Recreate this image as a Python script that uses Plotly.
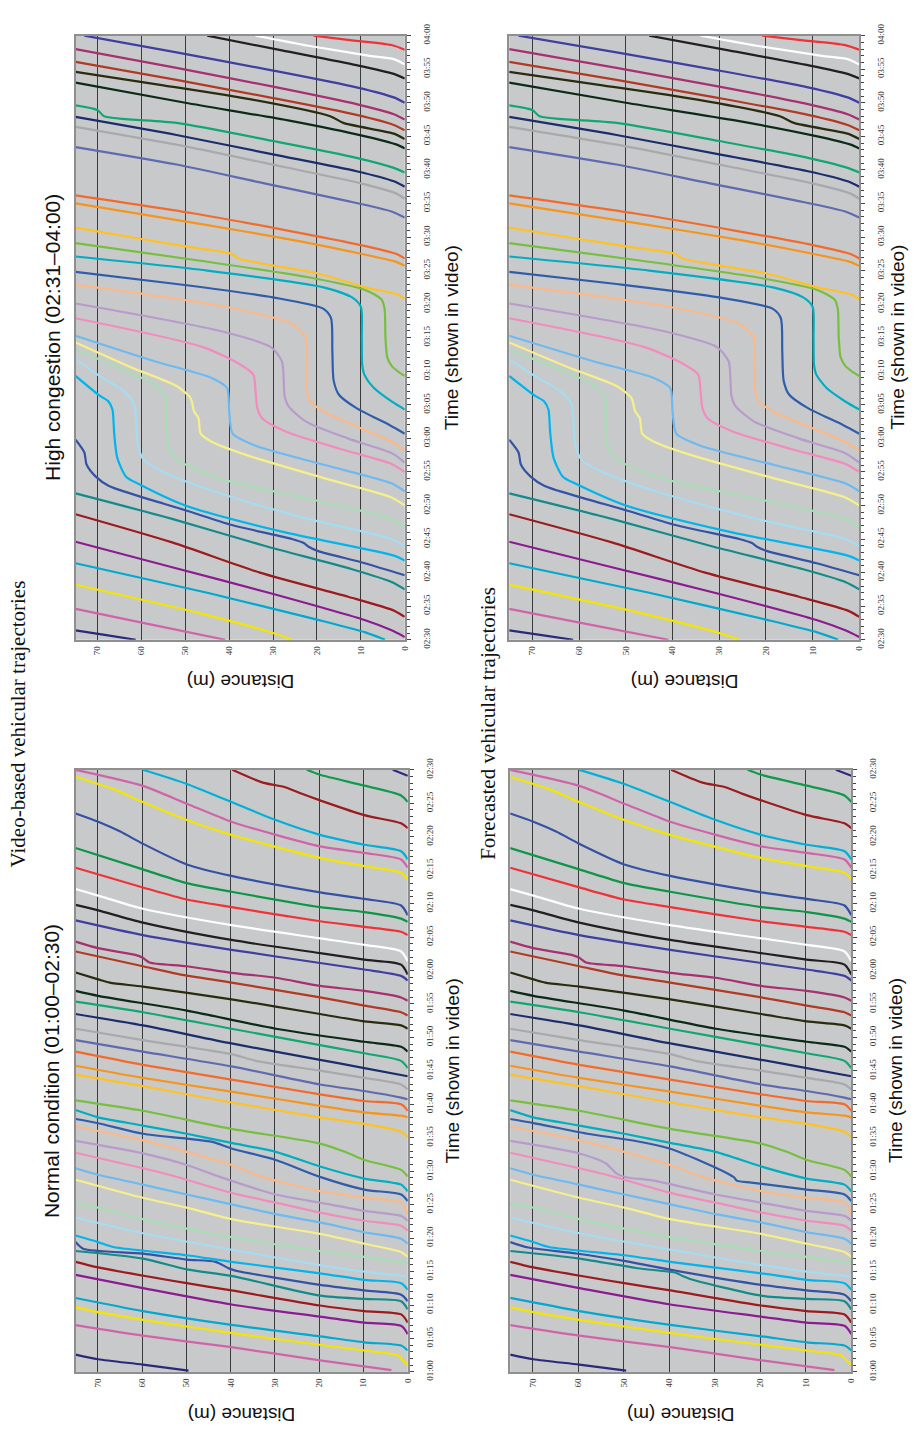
import plotly.graph_objects as go

W, H = 914, 1445

vehicle_colors = [
    "#2B2A7A", "#D064A8", "#F2E600", "#00A9CE", "#8B1C8F", "#9B1B1E", "#148A8A", "#3553A4",
    "#00B4EC", "#A6DCF2", "#A8DDB5", "#F5F08A", "#6EB9F0", "#F28CBD", "#B79BCB", "#F9B98A",
    "#2F5DAA", "#00AEC0", "#76BF3F", "#FFC222", "#F7941D", "#F26B2B", "#5F6BAE", "#A7A9AC",
    "#1B2E6B", "#10A870", "#0B2B17", "#2B2B0F", "#B23A24", "#A7306F", "#3E3F9E", "#231F20",
    "#FFFFFF", "#EE3338", "#0E9648", "#3451A3", "#F2E600", "#D064A8", "#00B0D8", "#9B1B1E",
    "#109A4C", "#2B2A7A",
]

# ---------- Video-based, normal condition (time in s, distance in m) ----------
normal_video_times = [
    [60.2, 61.1, 61.9, 62.6],
    [60.26, 61.73, 63.7, 65.42, 66.99],
    [61.1, 61.73, 62.47, 63.2, 64.92, 66.79, 68.95, 69.69],
    [63.2, 63.94, 64.43, 65.32, 67.03, 69.1, 71.06],
    [65.66, 66.89, 67.38, 68.26, 70.08, 72.53, 74.5],
    [67.38, 68.6, 69.1, 69.93, 72.19, 73.27, 75.63, 76.46],
    [69.34, 70.57, 70.91, 71.4, 74.35, 75.33, 76.95, 78.08],
    [70.57, 71.55, 72.19, 73.02, 75.14, 75.48, 76.46, 76.8, 77.69, 78.43, 79.41],
    [72.29, 73.27, 73.76, 74.74, 76.46, 77.44, 78.67, 79.41, 80.39],
    [74.25, 74.99, 75.97, 78.28, 80.73, 83.09],
    [76.31, 77.2, 78.08, 80.14, 82.84, 84.56, 85.15],
    [77.2, 77.93, 79.16, 80.63, 82.84, 84.56, 86.03, 88.73],
    [79.16, 79.9, 80.88, 82.35, 83.58, 85.05, 86.52, 88.0, 89.47, 90.45],
    [81.12, 81.86, 82.6, 83.82, 85.3, 86.77, 89.47, 90.45, 92.76],
    [82.6, 83.33, 84.07, 85.3, 86.52, 89.2, 90.94, 92.66, 94.53],
    [83.58, 85.3, 86.03, 87.02, 89.2, 90.94, 92.9, 94.62, 96.69],
    [85.54, 86.52, 87.26, 89.2, 91.68, 93.4, 94.38, 94.87, 95.6, 97.18, 97.81],
    [87.0, 88.0, 88.9, 90.7, 92.9, 94.23, 95.6, 96.83, 98.06, 99.14],
    [89.22, 90.2, 91.68, 92.9, 94.13, 96.34, 99.04, 100.6],
    [95.11, 95.9, 97.08, 98.06, 100.27, 102.72, 104.44],
    [98.06, 98.3, 98.8, 99.78, 101.89, 103.95, 105.77],
    [99.04, 100.0, 100.5, 101.5, 103.7, 105.91, 107.88],
    [100.76, 101.0, 101.99, 102.97, 105.67, 107.88, 109.6],
    [102.24, 102.97, 103.95, 105.03, 106.5, 107.5, 109.6, 111.3],
    [104.2, 105.42, 106.65, 109.1, 111.8, 113.5],
    [105.42, 106.5, 107.63, 108.86, 111.3, 113.77, 115.34],
    [107.88, 108.6, 109.35, 111.3, 114.01, 116.22, 116.96],
    [111.3, 111.8, 112.39, 113.5, 115.7, 117.6, 118.19, 118.68, 119.7],
    [113.28, 113.77, 114.75, 115.98, 118.19, 119.5, 120.64, 122.85],
    [115.49, 115.98, 116.96, 117.7, 118.92, 119.66, 120.64, 121.2, 121.9, 122.3, 123.34, 124.32],
    [118.5, 119.2, 120.15, 121.13, 123.1, 125.3, 127.5],
    [119.4, 120.89, 121.62, 122.6, 124.57, 127.17, 128.99, 129.82],
    [121.38, 122.85, 123.83, 124.81, 126.78, 129.23, 131.2, 132.18],
    [125.3, 125.8, 126.53, 127.37, 129.48, 130.61, 132.42, 135.37],
    [127.27, 127.76, 128.74, 129.48, 131.78, 133.06, 135.12, 138.31],
    [128.25, 129.72, 130.7, 131.69, 134.14, 135.86, 138.95, 140.77, 142.24, 143.47],
    [133.65, 134.63, 135.61, 136.84, 140.28, 142.49, 145.19, 147.15, 147.89, 148.97],
    [135.37, 136.6, 137.58, 138.56, 140.28, 142.24, 144.94, 147.6, 150.0],
    [136.6, 137.82, 138.8, 140.28, 142.49, 145.19, 147.89, 150.0],
    [141.26, 142.0, 143.22, 145.43, 146.41, 147.4, 148.13, 150.0],
    [145.19, 146.17, 147.64, 149.26, 150.0],
    [149.1, 150.0],
]
normal_video_dists = [
    [49.5, 59.8, 69.9, 75],
    [3.7, 19.8, 39.8, 59.8, 75],
    [0, 1.1, 2.2, 9.8, 29.9, 49.9, 69.9, 75],
    [0, 1.5, 9.8, 19.8, 39.8, 59.8, 75],
    [0, 1.5, 9.8, 19.8, 39.8, 59.8, 75],
    [0, 1.5, 9.8, 19.8, 39.8, 49.9, 69.9, 75],
    [0, 1.5, 9.8, 19.8, 39.8, 49.9, 59.8, 75],
    [0, 1.5, 9.8, 19.8, 38.9, 40.4, 43.4, 49.9, 59.8, 73.3, 75],
    [0, 1.5, 9.8, 19.8, 39.8, 49.9, 66.5, 69.9, 75],
    [0, 9.8, 19.8, 39.8, 59.8, 75],
    [0, 9.8, 19.8, 39.8, 59.8, 69.9, 75],
    [0, 1.5, 9.8, 19.8, 39.8, 49.9, 59.8, 75],
    [0, 1.5, 9.8, 19.8, 29.8, 39.8, 49.9, 59.8, 69.9, 75],
    [0, 1.5, 9.8, 19.8, 29.8, 39.8, 53.8, 59.8, 75],
    [0, 1.5, 9.8, 19.8, 29.8, 42.6, 49.9, 59.8, 75],
    [0, 1.5, 9.8, 19.8, 33, 39.8, 49.9, 59.8, 75],
    [0, 1.5, 9.8, 20, 29.8, 39.8, 44.1, 49.9, 59.8, 69.9, 75],
    [0, 1.5, 9.8, 19.8, 29.8, 39.8, 49.9, 59.8, 69.9, 75],
    [0, 1.5, 9.8, 14.2, 19.8, 39.8, 59.8, 75],
    [0, 1.5, 9.8, 19.8, 39.8, 59.8, 75],
    [0, 1.5, 9.8, 19.8, 39.8, 59.8, 75],
    [0, 1.5, 9.8, 19.8, 39.8, 59.8, 75],
    [0, 1.5, 9.8, 19.8, 39.8, 59.8, 75],
    [0, 1.5, 9.8, 19.8, 34.3, 39.8, 59.8, 75],
    [0, 9.8, 19.8, 39.8, 59.8, 75],
    [0, 1.5, 9.8, 19.8, 39.8, 59.8, 75],
    [0, 1.5, 9.8, 29.8, 49.9, 69.9, 75],
    [0, 1.5, 9.8, 19.8, 39.8, 59.8, 67.3, 69.9, 75],
    [0, 1.5, 9.8, 19.8, 39.8, 52, 59.8, 75],
    [0, 1.5, 9.8, 19.8, 29.8, 39.8, 49.9, 58.3, 59.8, 61.3, 69.9, 75],
    [0, 1.5, 9.8, 19.8, 39.8, 59.8, 75],
    [0, 1.5, 9.8, 19.8, 39.8, 59.8, 69.9, 75],
    [0, 1.5, 9.8, 19.8, 39.8, 59.8, 69.9, 75],
    [0, 1.5, 9.8, 19.8, 39.8, 49.9, 59.8, 75],
    [0, 1.5, 9.8, 19.8, 39.8, 49.9, 59.8, 75],
    [0, 1.5, 9.8, 19.8, 39.8, 49.9, 59.8, 64.9, 69.9, 75],
    [0, 1.5, 9.8, 19.8, 39.8, 49.9, 59.8, 66.5, 69.9, 75],
    [0, 1.5, 9.8, 19.8, 29.8, 39.8, 49.9, 59.8, 75],
    [0, 1.5, 9.8, 19.8, 29.8, 39.8, 49.9, 59.8],
    [0, 1.5, 9.8, 19.8, 23.9, 27.7, 32.9, 39.6],
    [0, 1.5, 9.8, 19.8, 22.8],
    [0, 3.4],
]

# ---------- Video-based, high congestion ----------
high_video_times = [
    [150, 150.7, 151.4],
    [150, 152.3, 154.6],
    [150, 151, 154, 158.2],
    [150, 151.1, 153, 157, 161.4],
    [150.4, 151.4, 152.9, 157, 160.8, 164.6],
    [153.4, 154.3, 156.4, 160, 164.5, 168.7],
    [157.5, 158.6, 160.5, 164, 168, 171.8],
    [159.6, 161.4, 163.2, 163.9, 164.4, 165, 167.1, 169.3, 171.4, 172.9, 174.3, 176.1, 177.9, 179.8],
    [161.8, 162.5, 166.1, 170, 173.2, 174.3, 177.1, 180.7, 184.3, 185.5, 186.4, 189.3],
    [163.9, 165, 168, 172, 175, 176.8, 179, 182, 185, 187, 189.5, 191.8],
    [166.8, 168, 171, 174, 176.5, 178.5, 182, 186.4, 188, 190.5, 193.2],
    [170, 171.2, 174, 177.5, 179.5, 180.7, 183, 184, 186, 187.8, 190.5, 194.3],
    [172.1, 173.3, 176, 178.9, 180.7, 184, 187.5, 189, 191.5, 195.3],
    [175, 176.2, 178.5, 181, 183, 184.5, 187, 189.5, 191, 193.6, 197.9],
    [176.4, 177.8, 180, 182.5, 184.8, 186.4, 189, 191.5, 193.6, 196, 200.1],
    [178.2, 179.5, 181.5, 184, 185.5, 187, 191, 195, 197, 199.5, 202.9],
    [180.7, 182, 184.5, 186.5, 188.6, 193, 197.9, 199.3, 201, 203, 204.8],
    [184.3, 185.5, 187.5, 189.5, 191, 195, 199.6, 201, 202.5, 205, 207.1],
    [189.3, 189.8, 190.8, 192.1, 195, 199.3, 200.7, 202.1, 204, 206.5, 209.1],
    [200.7, 201.4, 202.5, 204.6, 205.7, 206.8, 207.5, 208.6, 209.7, 211.4],
    [205.7, 206.3, 207.5, 209.5, 212, 215],
    [206.8, 207.5, 208.8, 211, 213.5, 216.2],
    [212.9, 213.8, 215.5, 218, 220.8, 223.4],
    [215.7, 216.5, 218, 220.5, 223.5, 226.4],
    [217.5, 218.3, 219.8, 222.3, 225.2, 227.9],
    [219.6, 220.3, 221.8, 224.3, 227, 228, 228.9, 229.6],
    [223.2, 223.8, 225, 227.3, 230, 233],
    [224.6, 225.4, 227, 228, 230.5, 232.6, 234.6],
    [225.9, 226.7, 228.2, 230.7, 233.4, 236.1],
    [227.5, 228.3, 229.8, 232.4, 235.2, 238],
    [230, 230.8, 232.3, 234.8, 237.5, 240],
    [233.6, 234.3, 235.6, 237.8, 240],
    [235.7, 236.5, 237, 238.5, 240],
    [237.9, 238.6, 239.3, 240],
]
high_video_dists = [
    [61.3, 68, 75],
    [40.9, 58, 75],
    [25.7, 30, 47, 75],
    [4.5, 9, 20, 45, 75],
    [0, 3, 9, 31, 53, 75],
    [0, 2.3, 12.9, 33, 53, 75],
    [0, 3, 12, 32, 53, 75],
    [0, 9.1, 19.7, 22, 23, 25.7, 39.4, 50, 60.6, 67.4, 70.4, 72.5, 73, 75],
    [0, 2.3, 28, 50, 60.6, 63.5, 65.5, 66.2, 66.6, 67.5, 69.6, 75],
    [0, 3, 22, 43, 55, 59.5, 60.8, 61.2, 61.6, 64, 70, 75],
    [0, 3, 22, 42, 51, 53.8, 54.3, 54.6, 57, 65, 75],
    [0, 3, 18, 36, 44, 46.5, 47, 48, 48.8, 52, 62, 75],
    [0, 3, 18, 34, 39.2, 40, 40.5, 44, 57, 75],
    [0, 3, 15, 27, 32.5, 33.6, 34, 34.5, 37.5, 46, 75],
    [0, 3, 13, 22.5, 26.5, 27.4, 27.6, 28, 30.5, 42, 75],
    [0, 3, 10, 18.5, 21.5, 22.3, 22.4, 22.6, 25.5, 40, 75],
    [0, 3.5, 11, 15, 16.2, 16.5, 16.8, 18.5, 30, 52, 75],
    [0, 3, 7, 9.2, 9.7, 9.8, 10, 12, 18.5, 45, 75],
    [0, 1.2, 3, 4, 4.4, 4.6, 5.3, 9, 22, 47, 75],
    [0, 1.5, 9, 20, 29.5, 37.9, 39.5, 50, 60, 75],
    [0, 2, 10, 25, 47, 75],
    [0, 2, 10, 27, 48, 75],
    [0, 3, 14, 32, 52, 75],
    [0, 2, 10, 28, 50, 75],
    [0, 2.5, 11, 30, 52, 75],
    [0, 2.5, 11, 30, 52, 68.5, 70, 75],
    [0, 2, 9, 26, 50, 75],
    [0, 2.5, 14, 17, 35, 55, 75],
    [0, 2.5, 11, 30, 52, 75],
    [0, 2.5, 11, 30, 52, 75],
    [0, 2.5, 11, 30, 52, 73],
    [0, 2.5, 11, 28, 45],
    [0, 2.5, 8, 22, 34],
    [0, 3, 12, 20.8],
]

normal_forecast_times = [list(v) for v in normal_video_times]
normal_forecast_dists = [list(v) for v in normal_video_dists]
normal_forecast_times[6] = [69.34, 70.57, 70.91, 71.4, 73.9, 74.3, 74.8, 75.5, 76.95, 78.08]
normal_forecast_dists[6] = [0, 1.5, 9.8, 19.8, 35.5, 37.0, 38.5, 47.0, 59.8, 75]
normal_forecast_times[7] = [70.57, 71.55, 72.19, 73.02, 75.0, 76.6, 77.7, 78.6, 79.41]
normal_forecast_dists[7] = [0, 1.5, 9.8, 19.8, 37.5, 50.0, 60.5, 71.0, 75]
normal_forecast_times[14] = [82.6, 83.33, 84.07, 85.3, 86.52, 88.6, 89.1, 89.6, 91.2, 92.66, 94.53]
normal_forecast_dists[14] = [0, 1.5, 9.8, 19.8, 29.8, 43.5, 49.5, 51.5, 54.0, 59.8, 75]
normal_forecast_times[16] = [85.54, 86.52, 87.26, 88.3, 88.6, 89.1, 89.6, 91.5, 93.4, 94.6, 95.6, 97.2, 97.81]
normal_forecast_dists[16] = [0, 1.5, 9.8, 22.0, 25.2, 25.8, 27.0, 33.0, 40.0, 48.0, 58.0, 69.9, 75]

high_forecast_times = [list(v) for v in high_video_times]
high_forecast_dists = [list(v) for v in high_video_dists]

distance_ticks = [0, 10, 20, 30, 40, 50, 60, 70]
normal_time_ticks = [60, 65, 70, 75, 80, 85, 90, 95, 100, 105, 110, 115, 120, 125, 130, 135, 140, 145, 150]
normal_time_labels = ["01:00", "01:05", "01:10", "01:15", "01:20", "01:25", "01:30", "01:35", "01:40", "01:45",
                      "01:50", "01:55", "02:00", "02:05", "02:10", "02:15", "02:20", "02:25", "02:30"]
high_time_ticks = [150, 155, 160, 165, 170, 175, 180, 185, 190, 195, 200, 205, 210, 215, 220, 225, 230, 235, 240]
high_time_labels = ["02:30", "02:35", "02:40", "02:45", "02:50", "02:55", "03:00", "03:05", "03:10", "03:15",
                    "03:20", "03:25", "03:30", "03:35", "03:40", "03:45", "03:50", "03:55", "04:00"]

panels = [
    dict(times=high_video_times, dists=high_video_dists, box=(76, 407, 24, 637), title_dx=47,
         trange=[150, 240], tv=high_time_ticks, tt=high_time_labels),
    dict(times=normal_video_times, dists=normal_video_dists, box=(76, 410, 769, 1380), title_dx=45,
         trange=[60, 150], tv=normal_time_ticks, tt=normal_time_labels),
    dict(times=high_forecast_times, dists=high_forecast_dists, box=(512, 864, 24, 637), title_dx=39,
         trange=[150, 240], tv=high_time_ticks, tt=high_time_labels),
    dict(times=normal_forecast_times, dists=normal_forecast_dists, box=(513, 856, 769, 1380), title_dx=45,
         trange=[60, 150], tv=normal_time_ticks, tt=normal_time_labels),
]

SERIF = "Liberation Serif, Times New Roman, serif"
SANS = "Liberation Sans, Arial, sans-serif"

fig = go.Figure()
layout_axes = {}
annotations = []

for n, p in enumerate(panels, start=1):
    x0, x1, y0, y1 = p["box"]
    xa = "x" if n == 1 else f"x{n}"
    ya = "y" if n == 1 else f"y{n}"
    for i, (ts, ds) in enumerate(zip(p["times"], p["dists"])):
        fig.add_trace(go.Scatter(
            x=ds, y=ts, mode="lines", xaxis=xa, yaxis=ya,
            line=dict(color=vehicle_colors[i], width=2.2, shape="spline", smoothing=0.7),
            hoverinfo="skip", showlegend=False,
        ))
    layout_axes["xaxis" if n == 1 else f"xaxis{n}"] = dict(
        domain=[x0 / W, x1 / W], anchor=ya, range=[75, 0],
        tickvals=distance_ticks, ticktext=[str(v) for v in distance_ticks],
        tickangle=-90, tickfont=dict(family=SERIF, size=9, color="#333"),
        showgrid=True, gridcolor="#3a3a3a", gridwidth=1.4, zeroline=False,
        showline=True, linecolor="#8f8f8f", linewidth=2, mirror=True,
        ticks="", ticklabelstandoff=1, fixedrange=True,
    )
    layout_axes["yaxis" if n == 1 else f"yaxis{n}"] = dict(
        domain=[1 - y1 / H, 1 - y0 / H], anchor=xa, range=p["trange"], side="right",
        tickvals=p["tv"], ticktext=p["tt"], tickangle=-90,
        tickfont=dict(family=SERIF, size=9, color="#333"),
        showgrid=False, zeroline=False,
        showline=True, linecolor="#8f8f8f", linewidth=2, mirror=True,
        ticks="outside", ticklen=4, tickcolor="#444", tickwidth=1,
        minor=dict(dtick=1, ticks="outside", ticklen=3, tickcolor="#444", tickwidth=1),
        ticklabelstandoff=8, fixedrange=True,
    )
    cx = (x0 + x1) / 2
    cy = (y0 + y1) / 2
    annotations.append(dict(text="Distance (m)", x=cx / W, y=1 - (y1 + 43) / H, xref="paper", yref="paper",
                            showarrow=False, textangle=180, font=dict(family=SANS, size=19, color="#111"),
                            xanchor="center", yanchor="middle"))
    annotations.append(dict(text="Time (shown in video)", x=(x1 + p["title_dx"]) / W, y=1 - cy / H,
                            xref="paper", yref="paper",
                            showarrow=False, textangle=-90, font=dict(family=SANS, size=19, color="#111"),
                            xanchor="center", yanchor="middle"))

annotations.append(dict(text="High congestion (02:31–04:00)", x=52 / W, y=1 - 330 / H, xref="paper", yref="paper",
                        showarrow=False, textangle=-90, font=dict(family=SANS, size=21, color="#111"),
                        xanchor="center", yanchor="middle"))
annotations.append(dict(text="Normal condition (01:00–02:30)", x=52 / W, y=1 - 1075 / H, xref="paper", yref="paper",
                        showarrow=False, textangle=-90, font=dict(family=SANS, size=21, color="#111"),
                        xanchor="center", yanchor="middle"))
annotations.append(dict(text="Video-based vehicular trajectories", x=18 / W, y=1 - 722 / H, xref="paper", yref="paper",
                        showarrow=False, textangle=-90, font=dict(family=SERIF, size=21, color="#111"),
                        xanchor="center", yanchor="middle"))
annotations.append(dict(text="Forecasted vehicular trajectories", x=490 / W, y=1 - 722 / H, xref="paper", yref="paper",
                        showarrow=False, textangle=-90, font=dict(family=SERIF, size=21, color="#111"),
                        xanchor="center", yanchor="middle"))

fig.update_layout(
    width=W, height=H, margin=dict(l=0, r=0, t=0, b=0),
    paper_bgcolor="white", plot_bgcolor="#C8C9CB",
    annotations=annotations, **layout_axes,
)

fig.write_html("out.html", config={"displayModeBar": False},
               post_script="document.body.style.margin='0px';document.body.style.overflow='hidden';")
